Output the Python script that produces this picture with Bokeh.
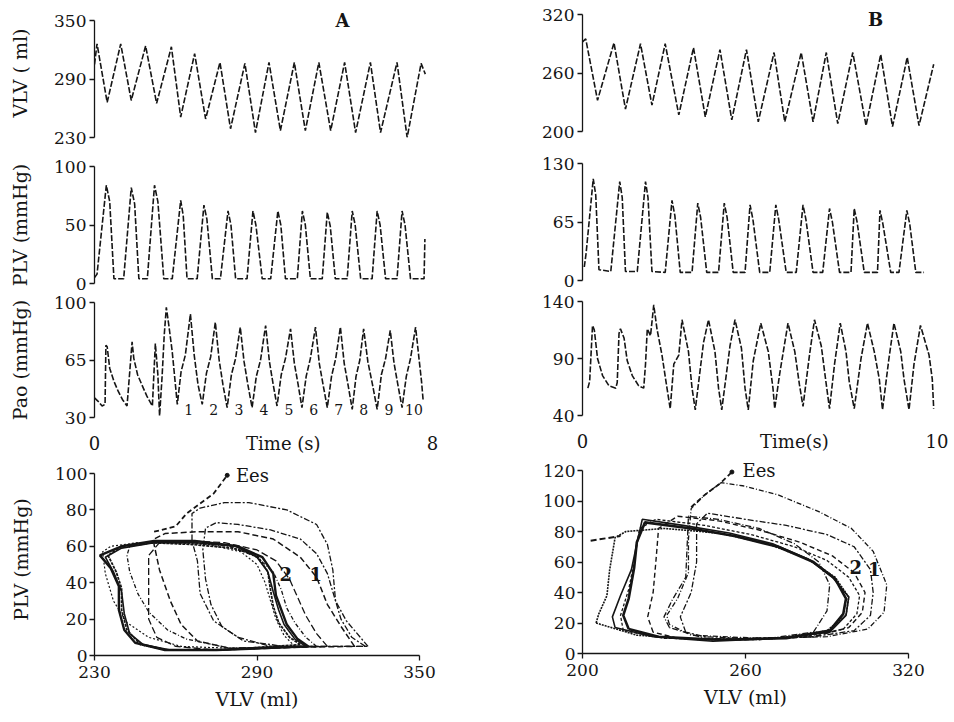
from bokeh.plotting import figure
from bokeh.models import Range1d, FixedTicker, Label, CustomJSTickFormatter
from bokeh.layouts import row, column
from bokeh.embed import file_html
from bokeh.resources import INLINE
from bokeh.core.properties import value

# ---------------- data ----------------
# Panel A, time series (t in s)
VLV_A = [(0.00, 305), (0.06, 326), (0.30, 266), (0.62, 326), (0.87, 268), (1.21, 324), (1.47, 265),
         (1.82, 323), (2.04, 251), (2.37, 316), (2.63, 249), (2.97, 307), (3.22, 239), (3.56, 306),
         (3.81, 235), (4.13, 307), (4.40, 237), (4.73, 307), (4.99, 237), (5.31, 307), (5.59, 237),
         (5.92, 307), (6.18, 235), (6.53, 307), (6.77, 235), (7.16, 307), (7.40, 230), (7.73, 306),
         (7.83, 295)]
PLV_A = [(0.00, 5), (0.06, 8), (0.28, 84), (0.36, 70), (0.46, 4), (0.69, 4),
         (0.87, 82), (0.95, 68), (1.05, 4), (1.25, 4),
         (1.42, 84), (1.50, 70), (1.64, 4), (1.84, 4),
         (2.04, 71), (2.10, 58), (2.19, 4), (2.43, 4),
         (2.59, 67), (2.66, 55), (2.79, 4), (2.98, 4),
         (3.16, 62), (3.23, 50), (3.34, 4), (3.61, 4),
         (3.75, 62), (3.82, 50), (3.97, 4), (4.17, 4),
         (4.34, 62), (4.41, 50), (4.52, 4), (4.80, 4),
         (4.92, 62), (4.99, 50), (5.11, 4), (5.39, 4),
         (5.51, 61), (5.58, 49), (5.70, 4), (5.98, 4),
         (6.10, 62), (6.17, 50), (6.30, 4), (6.57, 4),
         (6.69, 62), (6.76, 50), (6.89, 4), (7.16, 4),
         (7.28, 62), (7.35, 50), (7.48, 4), (7.80, 4),
         (7.82, 38)]
PAO_A = [(0.00, 42), (0.08, 40), (0.18, 37), (0.25, 38), (0.27, 74), (0.30, 73), (0.36, 60),
         (0.46, 52), (0.56, 46), (0.66, 41), (0.77, 37), (0.89, 76), (0.93, 66), (1.02, 56),
         (1.12, 50), (1.24, 43), (1.37, 37), (1.44, 75), (1.50, 56), (1.54, 31), (1.60, 55),
         (1.65, 80), (1.70, 97), (1.76, 86), (1.84, 70), (1.96, 38),
         (2.05, 58), (2.15, 68), (2.27, 93), (2.36, 68), (2.45, 50), (2.55, 38),
         (2.65, 57), (2.75, 67), (2.86, 88), (2.95, 65), (3.04, 50), (3.14, 36),
         (3.24, 56), (3.34, 66), (3.45, 85), (3.54, 64), (3.63, 50), (3.73, 36),
         (3.83, 55), (3.93, 65), (4.05, 86), (4.14, 64), (4.23, 50), (4.32, 37),
         (4.42, 56), (4.52, 66), (4.64, 84), (4.73, 63), (4.82, 50), (4.91, 36),
         (5.01, 55), (5.11, 66), (5.23, 85), (5.32, 63), (5.41, 50), (5.51, 36),
         (5.61, 55), (5.71, 66), (5.82, 85), (5.91, 63), (6.00, 50), (6.10, 35),
         (6.19, 55), (6.28, 65), (6.37, 84), (6.47, 64), (6.58, 50), (6.69, 35),
         (6.79, 56), (6.89, 66), (7.00, 83), (7.09, 63), (7.18, 50), (7.28, 36),
         (7.38, 55), (7.48, 66), (7.60, 85), (7.68, 66), (7.74, 52), (7.78, 40)]
BEAT_T = [2.23, 2.82, 3.42, 4.01, 4.60, 5.19, 5.78, 6.37, 6.97, 7.56]
BEAT_Y = [35, 35, 35, 35, 35, 35, 35, 35, 35, 35]
BEAT_TXT = ["1", "2", "3", "4", "5", "6", "7", "8", "9", "10"]

# Panel B, time series
VLV_B = [(0.00, 292), (0.09, 295), (0.42, 232), (0.88, 291), (1.20, 223), (1.62, 290), (1.94, 227),
         (2.31, 290), (2.69, 217), (3.10, 286), (3.43, 215), (3.84, 284), (4.17, 212), (4.58, 284),
         (4.91, 210), (5.35, 281), (5.65, 210), (6.11, 281), (6.44, 210), (6.81, 281), (7.13, 208),
         (7.55, 281), (7.92, 206), (8.33, 279), (8.66, 205), (9.07, 276), (9.40, 206), (9.81, 269)]
PLV_B = [(0.05, 15), (0.10, 30), (0.30, 113), (0.37, 95), (0.46, 12), (0.79, 10),
         (1.04, 110), (1.11, 92), (1.20, 10), (1.53, 10),
         (1.76, 110), (1.83, 92), (1.94, 10), (2.31, 9),
         (2.50, 89), (2.58, 72), (2.73, 9), (3.06, 9),
         (3.22, 86), (3.30, 70), (3.47, 9), (3.80, 9),
         (3.96, 86), (4.04, 70), (4.21, 9), (4.54, 9),
         (4.68, 84), (4.76, 68), (4.95, 9), (5.23, 9),
         (5.40, 84), (5.48, 68), (5.69, 9), (5.97, 9),
         (6.16, 84), (6.24, 68), (6.44, 9), (6.71, 9),
         (6.90, 80), (6.98, 65), (7.18, 9), (7.50, 9),
         (7.59, 80), (7.67, 65), (7.87, 9), (8.24, 9),
         (8.31, 78), (8.39, 63), (8.61, 9), (8.84, 9),
         (9.06, 78), (9.14, 63), (9.31, 9), (9.54, 9)]
PAO_B = [(0.15, 64), (0.20, 70), (0.28, 119), (0.33, 115), (0.42, 90), (0.56, 75), (0.74, 66),
         (0.93, 64), (0.97, 69), (1.02, 112), (1.06, 116), (1.16, 108), (1.25, 88), (1.39, 75),
         (1.57, 66), (1.71, 64), (1.76, 85), (1.81, 116), (1.90, 110), (1.99, 137), (2.08, 116),
         (2.22, 93), (2.36, 64), (2.45, 46), (2.55, 85), (2.69, 93), (2.78, 124), (2.96, 96),
         (3.06, 64), (3.15, 45), (3.38, 104), (3.52, 124), (3.70, 96), (3.80, 64), (3.89, 45),
         (4.12, 101), (4.26, 124), (4.44, 99), (4.54, 64), (4.63, 45), (4.77, 88), (4.98, 121),
         (5.19, 96), (5.32, 64), (5.37, 46), (5.51, 77), (5.74, 121), (5.93, 96), (6.06, 67),
         (6.16, 48), (6.34, 93), (6.48, 124), (6.67, 101), (6.81, 67), (6.90, 46), (7.04, 85),
         (7.20, 121), (7.36, 96), (7.45, 70), (7.59, 46), (7.78, 90), (7.96, 121), (8.15, 96),
         (8.29, 72), (8.38, 45), (8.56, 90), (8.70, 121), (8.89, 96), (8.98, 72), (9.12, 45),
         (9.26, 85), (9.44, 119), (9.68, 93), (9.77, 72), (9.81, 46)]

# Panel A, pressure-volume loops (V ml, P mmHg)
LOOPS_A = [
    ([331, 323, 319, 318, 316, 312, 301, 287, 278, 269, 266, 266, 268, 269, 274, 283, 295, 331],
     [5, 19, 30, 47, 61, 72, 80, 84, 84, 81, 78, 63, 52, 34, 19, 10, 5, 5]),
    ([330, 325, 321, 319, 316, 312, 306, 295, 283, 275, 271, 270, 271, 273, 277, 285, 300, 330],
     [5, 10, 20, 30, 45, 56, 64, 69, 72, 73, 70, 58, 42, 28, 16, 8, 5, 5]),
    ([326, 321, 316, 312, 306, 296, 283, 268, 256, 252, 252, 254, 258, 262, 268, 280, 326],
     [5, 16, 28, 43, 54, 64, 68, 68, 67, 64, 61, 47, 30, 17, 8, 4, 5]),
    ([312, 308, 304, 301, 299, 296, 290, 280, 266, 252, 243, 242, 243, 246, 250, 257, 264, 280, 312],
     [5, 10, 18, 26, 36, 46, 54, 60, 62, 62, 60, 55, 46, 34, 24, 14, 9, 4, 5]),
    ([309, 305, 301, 299, 297, 296, 292, 283, 267, 252, 240, 232, 236, 239, 239, 241, 245, 256, 275, 309],
     [5, 9, 17, 25, 33, 45, 54, 60, 63, 63, 60, 55, 48, 38, 25, 14, 7, 3, 3, 5]),
    ([308, 304, 300, 298, 296, 294, 290, 282, 267, 252, 240, 234, 237, 240, 241, 243, 248, 258, 276, 308],
     [5, 9, 17, 25, 35, 46, 54, 60, 62, 62, 59, 54, 46, 35, 23, 12, 6, 3, 3, 5]),
    ([306, 302, 298, 296, 295, 294, 290, 281, 266, 251, 240, 235, 238, 240, 240, 242, 247, 257, 276, 306],
     [6, 10, 18, 27, 36, 46, 55, 59, 61, 62, 60, 55, 46, 37, 25, 14, 6, 3, 3, 6]),
    ([304, 300, 297, 295, 293, 290, 284, 272, 258, 246, 236, 233, 234, 237, 242, 250, 262, 280, 304],
     [5, 11, 20, 30, 40, 50, 57, 61, 62, 62, 60, 57, 45, 30, 18, 10, 5, 4, 5]),
    ([316, 312, 308, 305, 302, 297, 290, 278, 264, 254, 250, 250, 250, 253, 260, 275, 316],
     [5, 12, 22, 32, 42, 52, 58, 62, 63, 62, 55, 35, 20, 10, 5, 3, 5]),
]
EES_A_V = [252, 260, 264, 274, 279]
EES_A_P = [68, 71, 78, 89, 99]

# Panel B, pressure-volume loops
LOOPS_B = [
    ([232, 231, 235, 239, 239, 240, 245, 251, 259, 272, 287, 299, 307, 312, 311, 305, 290, 265, 240, 232],
     [19, 25, 36, 53, 75, 95, 104, 112, 110, 104, 93, 82, 67, 45, 27, 16, 11, 10, 12, 19]),
    ([238, 236, 240, 242, 242, 246, 260, 275, 290, 300, 306, 307, 306, 300, 285, 260, 245, 238],
     [14, 24, 40, 60, 85, 92, 88, 84, 78, 70, 55, 40, 25, 15, 11, 10, 11, 14]),
    ([226, 224, 226, 227, 228, 235, 250, 265, 280, 292, 300, 304, 303, 298, 285, 260, 235, 226],
     [14, 24, 40, 60, 82, 90, 87, 81, 73, 64, 53, 40, 27, 17, 11, 9, 10, 14]),
    ([215, 214, 217, 219, 221, 227, 245, 262, 278, 290, 298, 302, 301, 296, 282, 255, 230, 215],
     [15, 25, 42, 60, 82, 88, 84, 78, 70, 61, 50, 38, 26, 16, 11, 9, 10, 15]),
    ([217, 215, 217, 219, 220, 223, 240, 256, 272, 285, 293, 297, 296, 291, 275, 250, 228, 217],
     [16, 25, 36, 56, 73, 86, 82, 77, 70, 60, 49, 36, 26, 15, 10, 9, 11, 16]),
    ([212, 211, 214, 218, 220, 222, 237, 254, 270, 283, 292, 298, 297, 291, 272, 248, 226, 212],
     [17, 24, 38, 55, 72, 88, 84, 79, 72, 62, 50, 37, 25, 14, 10, 8, 11, 17]),
    ([205, 206, 209, 210, 212, 216, 230, 250, 268, 283, 293, 298, 297, 290, 272, 245, 220, 205],
     [20, 26, 38, 55, 76, 80, 82, 79, 72, 62, 50, 37, 25, 15, 10, 9, 12, 20]),
    ([232, 230, 233, 238, 239, 250, 265, 278, 287, 291, 290, 285, 265, 245, 232],
     [17, 24, 35, 50, 90, 88, 82, 72, 60, 45, 28, 14, 9, 10, 17]),
]
EES_B_V = [240, 245, 251, 255]
EES_B_P = [96, 104, 112, 119]
EES_B2_V = [203, 214]
EES_B2_P = [74, 77]

# ---------------- styling ----------------
FONT = "DejaVu Serif"
INK = "#151515"
LOOP_STYLES_A = [("6 2 2 2", 1.3), ("6 2 2 2", 1.3), ("6 3", 1.5), ("4 2 1 2", 1.3),
                 ("solid", 2.4), ("solid", 1.6), ("3 1", 1.8), ("2 2", 1.2), ("7 3", 1.3)]
LOOP_STYLES_B = [("5 2 1 2", 1.3), ("6 2 2 2", 1.3), ("5 3", 1.4), ("3 2", 1.3),
                 ("solid", 2.6), ("solid", 1.6), ("2 1", 1.6), ("6 2 1 2", 1.3)]


def base_fig(xr, yr, fw, span_px, ext_px, left, right, top, bottom):
    # frame holds the axis span (span_px) plus ext_px of headroom above it for labels
    lo, hi = yr
    y_end = hi + ext_px * (hi - lo) / span_px
    p = figure(x_range=Range1d(*xr), y_range=Range1d(lo, y_end), frame_width=fw,
               frame_height=span_px + ext_px,
               min_border_left=left, min_border_right=right, min_border_top=top,
               min_border_bottom=bottom, output_backend="svg", toolbar_location=None,
               background_fill_color="white", border_fill_color="white",
               outline_line_color=None)
    p.grid.visible = False
    return p


def style_axis(ax, ticks, standoff, bounds, tick_out=5):
    ax.ticker = FixedTicker(ticks=ticks)
    ax.bounds = bounds
    ax.major_tick_out = tick_out
    ax.major_tick_in = 0
    ax.minor_tick_line_color = None
    ax.axis_line_color = INK
    ax.axis_line_width = 1.3
    ax.major_tick_line_color = INK
    ax.major_tick_line_width = 1.3
    ax.major_label_text_font = FONT
    ax.major_label_text_font_size = "17px"
    ax.major_label_text_color = INK
    ax.major_label_standoff = standoff
    ax.axis_label_text_font = FONT
    ax.axis_label_text_font_size = "19px"
    ax.axis_label_text_font_style = "normal"
    ax.axis_label_text_color = INK


def ts_fig(t_end, yr, yticks, ylabel, fw, span_px, ext_px, left, right, top, bottom, series,
           time_label=None, time_pos=None):
    p = base_fig((0, t_end), yr, fw, span_px, ext_px, left, right, top, bottom)
    style_axis(p.yaxis[0], yticks, 3, yr)
    if ylabel:
        p.yaxis[0].axis_label = ylabel
        p.yaxis[0].axis_label_standoff = 20
    if time_label:
        xa = p.xaxis[0]
        xa.ticker = FixedTicker(ticks=[0, time_pos, t_end])
        xa.formatter = CustomJSTickFormatter(
            args=dict(lab=time_label, end=t_end),
            code="if (Math.abs(tick) < 1e-9) return '0';"
                 "if (Math.abs(tick - end) < 1e-9) return String(end);"
                 "return lab;")
        xa.axis_line_color = None
        xa.major_tick_line_color = None
        xa.minor_tick_line_color = None
        xa.major_tick_out = 0
        xa.major_tick_in = 0
        xa.major_label_text_font = FONT
        xa.major_label_text_font_size = "18px"
        xa.major_label_text_color = INK
        xa.major_label_standoff = 15
    else:
        p.xaxis.visible = False
    t = [a for a, _ in series]
    v = [b for _, b in series]
    p.line(t, v, line_color=INK, line_width=1.6, line_dash="6 2")
    return p


def pv_fig(xr, yr, xticks, yticks, ylabel, fw, span_px, ext_px, left, right, top, bottom,
           loops, styles):
    p = base_fig(xr, yr, fw, span_px, ext_px, left, right, top, bottom)
    style_axis(p.xaxis[0], xticks, 5, xr)
    style_axis(p.yaxis[0], yticks, 2, yr)
    p.xaxis[0].axis_label = "VLV (ml)"
    p.xaxis[0].axis_label_standoff = 7
    if ylabel:
        p.yaxis[0].axis_label = ylabel
        p.yaxis[0].axis_label_standoff = 20
    for (vv, pp), (dash, w) in zip(loops, styles):
        p.line(vv, pp, line_color=INK, line_width=w, line_dash=dash)
    return p


def add_label(p, x, y, text, size="18px", bold=False, align="center"):
    p.add_layout(Label(x=x, y=y, text=text, text_font=FONT, text_font_size=size,
                       text_font_style="bold" if bold else "normal", text_color=INK,
                       text_align=align, text_baseline="middle"))


# ---------------- panel A ----------------
a1 = ts_fig(8, (230, 350), [230, 290, 350], "VLV ( ml)", 338, 117, 12, 91, 51, 8, 11, VLV_A)
add_label(a1, 5.87, 350, "A", bold=True)
a2 = ts_fig(8, (0, 100), [0, 50, 100], "PLV (mmHg)", 338, 117, 0, 91, 51, 18, 10, PLV_A)
a3 = ts_fig(8, (30, 100), [30, 65, 100], "Pao (mmHg)", 338, 115, 0, 91, 51, 9, 41, PAO_A,
            time_label="Time (s)", time_pos=4.47)
a3.text(x=BEAT_T, y=BEAT_Y, text=BEAT_TXT, text_font=value(FONT), text_font_size=value("14px"),
        text_color=INK, text_align="center", text_baseline="middle")
a4 = pv_fig((230, 350), (0, 100), [230, 290, 350], [0, 20, 40, 60, 80, 100], "PLV (mmHg)",
            325, 182, 10, 94, 61, 5, 62, LOOPS_A, LOOP_STYLES_A)
a4.line(EES_A_V, EES_A_P, line_color=INK, line_width=1.8, line_dash="5 3")
a4.scatter([EES_A_V[-1]], [EES_A_P[-1]], size=4, color=INK)
add_label(a4, 282.2, 98.9, "Ees", align="left")
add_label(a4, 300.6, 44.9, "2", bold=True)
add_label(a4, 311.7, 44.9, "1", bold=True)

# ---------------- panel B ----------------
b1 = ts_fig(10, (200, 320), [200, 260, 320], None, 358, 117, 11, 97, 13, 3, 13, VLV_B)
add_label(b1, 8.19, 315, "B", bold=True)
b2 = ts_fig(10, (0, 130), [0, 65, 130], None, 358, 117, 0, 97, 13, 19, 10, PLV_B)
b3 = ts_fig(10, (40, 140), [40, 90, 140], None, 358, 114, 0, 97, 13, 11, 41, PAO_B,
            time_label="Time(s)", time_pos=5.92)
b4 = pv_fig((200, 320), (0, 120), [200, 260, 320], [0, 20, 40, 60, 80, 100, 120], None,
            326, 183, 10, 102, 40, 4, 62, LOOPS_B, LOOP_STYLES_B)
b4.line(EES_B_V, EES_B_P, line_color=INK, line_width=1.8, line_dash="5 3")
b4.line(EES_B2_V, EES_B2_P, line_color=INK, line_width=2.0, line_dash="6 3")
b4.scatter([EES_B_V[-1]], [EES_B_P[-1]], size=4, color=INK)
add_label(b4, 258.9, 120.2, "Ees", align="left")
add_label(b4, 300.6, 56.9, "2", bold=True)
add_label(b4, 307.4, 55.7, "1", bold=True)

layout = row(column(a1, a2, a3, a4), column(b1, b2, b3, b4))
open("out.html", "w").write(file_html(layout, INLINE, title="PV loops"))
